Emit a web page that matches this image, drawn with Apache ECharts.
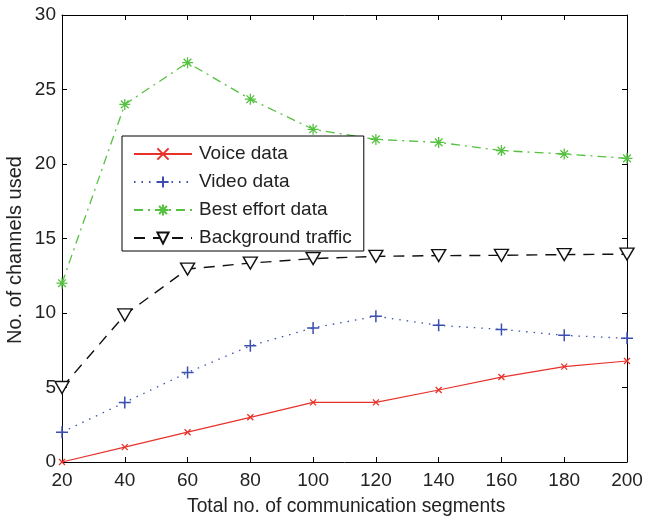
<!DOCTYPE html>
<html><head><meta charset="utf-8">
<script src="https://cdn.jsdelivr.net/npm/echarts@6/dist/echarts.min.js"></script>
<style>html,body{margin:0;padding:0;background:#fff}#c{width:646px;height:517px}</style>
</head><body><div id="c"></div>
<script>
const segments = [20,40,60,80,100,120,140,160,180,200];
const voiceData = [0,1,2,3,4,4,4.83,5.7,6.4,6.78];
const videoData = [2,4,6,7.8,9.0,9.78,9.17,8.9,8.5,8.3];
const bestEffortData = [12,24,26.8,24.35,22.33,21.65,21.45,20.9,20.67,20.38];
const backgroundData = [5,9.87,12.95,13.35,13.65,13.8,13.85,13.87,13.92,13.95];
const seriesNames = ['Voice data','Video data','Best effort data','Background traffic'];
const xTicks = [20,40,60,80,100,120,140,160,180,200];
const yTicks = [0,5,10,15,20,25,30];
const xTitle = 'Total no. of communication segments';
const yTitle = 'No. of channels used';

const F = 'Liberation Sans, Arial, Helvetica, sans-serif';
const pair = arr => segments.map((s,i)=>[s,arr[i]]);

const xSym = 'path://M0,0L10,10M10,0L0,10';
const plusSym = 'path://M5,0L5,10M0,5L10,5';
const starSym = 'path://M5,0L5,10M0,5L10,5M1.5,1.5L8.5,8.5M8.5,1.5L1.5,8.5';
const triSym = 'path://M0,0L10,0L5,9Z';

const chart = echarts.init(document.getElementById('c'));
const axisCommon = {
  axisLine:{show:true,onZero:false,lineStyle:{color:'#000',width:1}},
  axisTick:{show:true,inside:true,length:5,lineStyle:{color:'#000'}},
  splitLine:{show:false}
};
chart.setOption({
  animation:false,
  backgroundColor:'#fff',
  grid:{left:62,right:19,top:15,bottom:55,containLabel:false},
  xAxis:[
    Object.assign({type:'value',min:20,max:200,interval:20,position:'bottom',
      axisLabel:{fontFamily:F,fontSize:19,color:'#222',margin:9}},axisCommon),
    Object.assign({type:'value',min:20,max:200,interval:20,position:'top',axisLabel:{show:false}},axisCommon)
  ],
  yAxis:[
    Object.assign({type:'value',min:0,max:30,interval:5,position:'left',
      axisLabel:{fontFamily:F,fontSize:19,color:'#222',margin:6}},axisCommon),
    Object.assign({type:'value',min:0,max:30,interval:5,position:'right',axisLabel:{show:false}},axisCommon)
  ],
  graphic:[
    {type:'text',left:'center',x:0,top:497,style:{text:xTitle,font:'19.3px '+F,fill:'#222'},
      left:187},
    {type:'text',x:5,y:250,rotation:Math.PI/2,
      style:{text:yTitle,font:'20px '+F,fill:'#222',textAlign:'center',textVerticalAlign:'top'}}
  ],
  legend:{
    left:122,top:136,orient:'vertical',
    backgroundColor:'#fff',borderColor:'#000',borderWidth:1,borderRadius:0,
    padding:[8,12,3,11],itemGap:8,itemWidth:58,itemHeight:14,
    textStyle:{fontFamily:F,fontSize:19,color:'#222',lineHeight:20,padding:[0,0,0,2]},
    data:seriesNames
  },
  series:[
    {name:seriesNames[0],type:'line',data:pair(voiceData),symbol:xSym,symbolSize:6,
      lineStyle:{color:'#e8312a',width:1.2,type:'solid'},
      itemStyle:{color:'none',borderColor:'#e8312a',borderWidth:1.3}},
    {name:seriesNames[1],type:'line',data:pair(videoData),symbol:plusSym,symbolSize:12,
      lineStyle:{color:'#3a4fb0',width:1.3,type:[1.5,6]},
      itemStyle:{color:'none',borderColor:'#3a4fb0',borderWidth:1.5}},
    {name:seriesNames[2],type:'line',data:pair(bestEffortData),symbol:starSym,symbolSize:11,
      lineStyle:{color:'#55c140',width:1.3,type:[9,5,2,5]},
      itemStyle:{color:'none',borderColor:'#55c140',borderWidth:1.3}},
    {name:seriesNames[3],type:'line',data:pair(backgroundData),symbol:triSym,symbolSize:[14,12],
      lineStyle:{color:'#111',width:1.4,type:[11,8]},
      itemStyle:{color:'#fff',borderColor:'#111',borderWidth:1.4}}
  ]
});
</script></body></html>
